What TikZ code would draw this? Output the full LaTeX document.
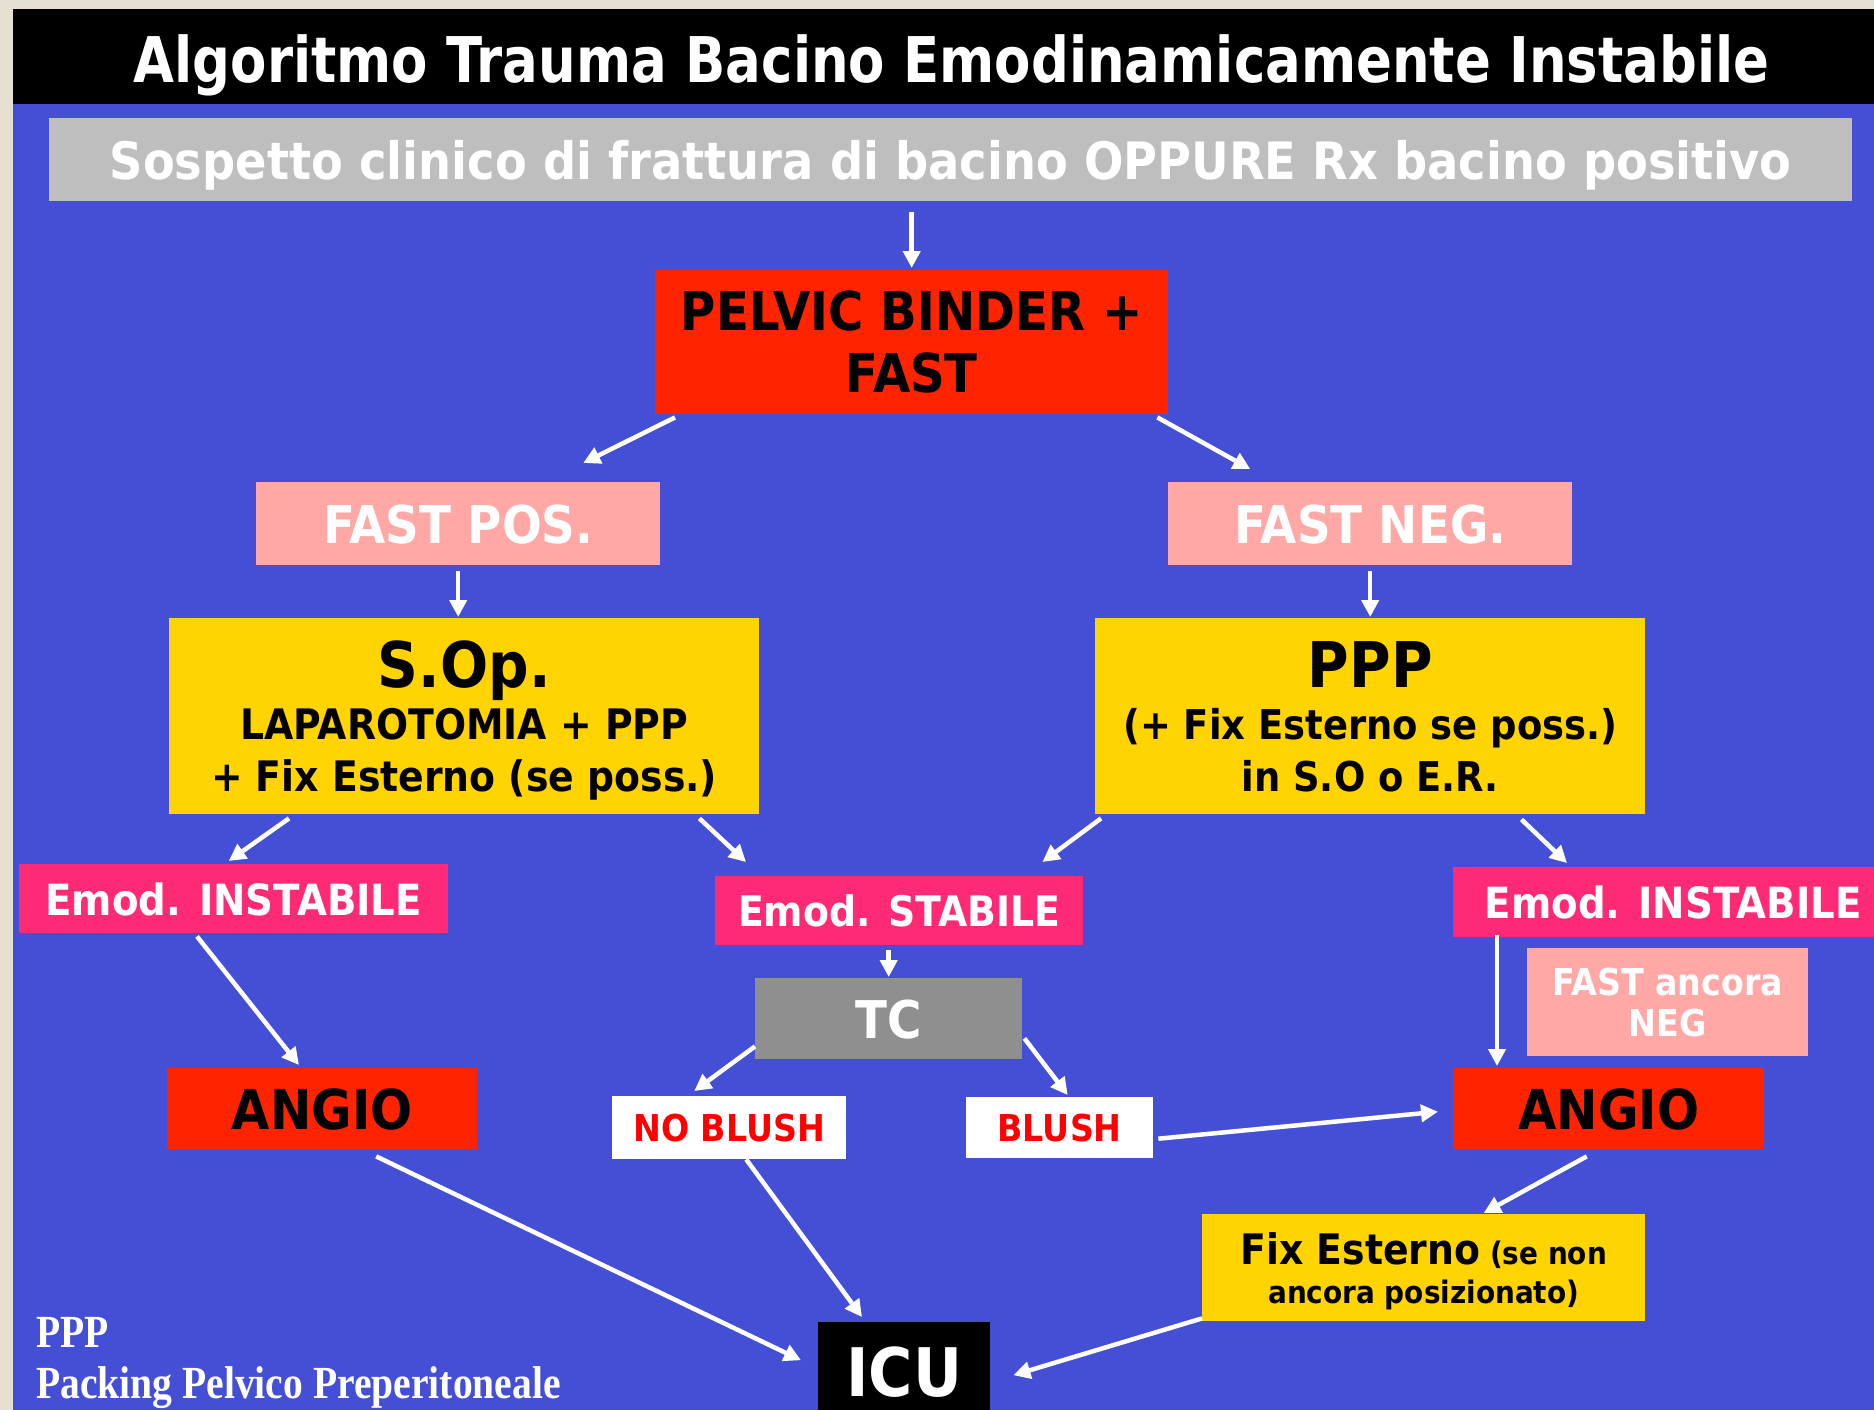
\documentclass[tikz,border=0pt]{standalone}
\usepackage{fontspec}
\setmainfont[FakeStretch=0.9]{DejaVu Sans}
\newfontfamily\headfont[FakeStretch=0.84]{DejaVu Sans}
\newfontfamily\notefont[FakeStretch=0.86]{Liberation Serif}
\usetikzlibrary{arrows.meta}

\definecolor{frame}{HTML}{E6E0D2}
\definecolor{slide}{HTML}{444FD5}
\definecolor{headgray}{HTML}{BEBEBE}
\definecolor{alarm}{HTML}{FF2400}
\definecolor{rose}{HTML}{FFA8A6}
\definecolor{gold}{HTML}{FFD400}
\definecolor{emod}{HTML}{FF2A75}
\definecolor{scan}{HTML}{8F8F8F}

\newcommand\boxsize[2]{\fontsize{#1pt}{#2pt}\selectfont}

\tikzset{
  box/.style={rectangle, anchor=north west, inner sep=0pt, align=center},
  flat/.style={text depth=0pt},
  arr/.style={white, line width=4.5pt, -{Triangle[length=17pt,width=17pt]}},
}

\begin{document}
\begin{tikzpicture}[x=1pt, y=-1pt]
    \useasboundingbox (0,0) rectangle (1874,1410);
    \fill[frame] (0,0) rectangle (1874,1410);
    \fill[slide] (13,9) rectangle (1874,1410);
    \fill[black] (13,9) rectangle (1874,104);

    \node[anchor=base, text=white, font=\headfont\bfseries\boxsize{63}{63}] (title) at (951.5,83)
        {Algoritmo Trauma Bacino Emodinamicamente Instabile};

    \begin{scope}[every node/.style={box}]
        \node[flat, fill=headgray, text=white, minimum width=1803pt, minimum height=83pt,
              font=\bfseries\boxsize{51.5}{62}] (sosp) at (49,118)
            {Sospetto clinico di frattura di bacino OPPURE Rx bacino positivo};
        \node[fill=alarm, text=black, minimum width=513pt, minimum height=144pt,
              font=\bfseries\boxsize{53.5}{62}] (pelvic) at (655,270) {PELVIC BINDER +\\FAST};
        \node[flat, fill=rose, text=white, minimum width=404pt, minimum height=83pt,
              font=\bfseries\boxsize{52}{62}] (fastpos) at (256,482) {FAST POS.};
        \node[flat, fill=rose, text=white, minimum width=404pt, minimum height=83pt,
              font=\bfseries\boxsize{52}{62}] (fastneg) at (1168,482) {FAST NEG.};
        \node[flat, fill=gold, text=black, minimum width=590pt, minimum height=196pt,
              font=\bfseries\boxsize{42}{52}] (sop) at (169,618)
            {{\boxsize{63}{63}S.Op.}\\LAPAROTOMIA + PPP\\+ Fix Esterno (se poss.)};
        \node[flat, fill=gold, text=black, minimum width=550pt, minimum height=196pt,
              font=\bfseries\boxsize{41}{52}] (ppp) at (1095,618)
            {{\boxsize{63}{63}PPP}\\(+ Fix Esterno se poss.)\\in S.O o E.R.};
        \node[flat, fill=emod, text=white, minimum width=429pt, minimum height=69pt,
              font=\bfseries\boxsize{43}{50}] (emodL) at (19,864) {Emod. INSTABILE};
        \node[flat, fill=emod, text=white, minimum width=368pt, minimum height=69pt,
              font=\bfseries\boxsize{42}{50}] (emodS) at (715,876) {Emod. STABILE};
        \node[flat, fill=emod, text=white, minimum width=440pt, minimum height=70pt,
              font=\bfseries\boxsize{43}{50}] (emodR) at (1453,867) {Emod. INSTABILE};
        \node[fill=rose, text=white, minimum width=281pt, minimum height=108pt,
              font=\bfseries\boxsize{37}{41}] (fastanc) at (1527,948) {FAST ancora\\NEG};
        \node[flat, fill=alarm, text=black, minimum width=310pt, minimum height=81pt,
              font=\bfseries\boxsize{55}{60}] (angioL) at (167,1068) {ANGIO};
        \node[flat, fill=alarm, text=black, minimum width=311pt, minimum height=81pt,
              font=\bfseries\boxsize{55}{60}] (angioR) at (1453,1068) {ANGIO};
        \node[flat, fill=scan, text=white, minimum width=267pt, minimum height=81pt,
              font=\bfseries\boxsize{52}{60}] (tc) at (755,978) {TC};
        \node[flat, fill=white, text=red, minimum width=234pt, minimum height=63pt,
              font=\bfseries\boxsize{37}{46}] (noblush) at (612,1096) {NO BLUSH};
        \node[flat, fill=white, text=red, minimum width=187pt, minimum height=61pt,
              font=\bfseries\boxsize{37}{46}] (blush) at (966,1097) {BLUSH};
        \node[flat, fill=gold, text=black, minimum width=443pt, minimum height=107pt,
              font=\bfseries\boxsize{31}{39}] (fixest) at (1202,1214)
            {{\boxsize{42}{42}Fix Esterno} (se non\\ancora posizionato)};
        \node[flat, fill=black, text=white, minimum width=172pt, minimum height=98pt,
              font=\bfseries\boxsize{67}{70}] (icu) at (818,1322) {ICU};
        \node[align=left, text=white, font=\notefont\bfseries\boxsize{46}{51}] (legend) at (36,1317)
            {PPP\\Packing Pelvico Preperitoneale};
    \end{scope}

    \begin{scope}
        \path[arr] (sosp.south -| pelvic.north) edge[shorten <=11pt, shorten >=2pt] (pelvic.north);
        \path[arr] ([xshift=20pt,yshift=-3pt]pelvic.south west) edge ([xshift=125pt,yshift=19pt]fastpos.north);
        \path[arr] ([xshift=-11pt,yshift=-3pt]pelvic.south east) edge ([xshift=-120pt,yshift=13pt]fastneg.north);
        \path[arr] (fastpos.south) edge[shorten <=6pt, shorten >=1pt] (fastpos.south |- sop.north);
        \path[arr] (fastneg.south) edge[shorten <=6pt, shorten >=1pt] (ppp.north);
        \path[arr] ([xshift=120pt,yshift=-4pt]sop.south west) edge ([xshift=-5pt,yshift=3pt]emodL.north);
        \path[arr] ([xshift=-60pt,yshift=-4pt]sop.south east) edge ([xshift=31pt,yshift=14pt]emodS.north west);
        \path[arr] ([xshift=6pt,yshift=-4pt]ppp.south west) edge ([xshift=-41pt,yshift=14pt]emodS.north east);
        \path[arr] ([xshift=-124pt,yshift=-5pt]ppp.south east) edge ([xshift=114pt,yshift=4pt]emodR.north west);
        \path[arr] (emodS.south -| tc.north) edge[shorten <=5pt, shorten >=1pt] (tc.north);
        \path[arr] ([xshift=178pt,yshift=-3pt]emodL.south west) edge ([xshift=132pt,yshift=3pt]angioL.north west);
        \path[arr] ([xshift=44pt,yshift=2pt]emodR.south west) edge[shorten >=2pt] ([xshift=44pt]angioR.north west);
        \path[arr] ([yshift=13pt]tc.south west) edge ([xshift=-35pt,yshift=5pt]noblush.north);
        \path[arr] ([xshift=2pt,yshift=21pt]tc.south east) edge ([xshift=8pt,yshift=2pt]blush.north);
        \path[arr] ([xshift=5pt,yshift=-11pt]blush.east) edge ([xshift=-15pt,yshift=-3pt]angioR.west);
        \path[arr] ([xshift=54pt,yshift=-7pt]angioL.south) edge ([xshift=-17pt,yshift=11pt]icu.west);
        \path[arr] ([xshift=17pt]noblush.south) edge ([xshift=44pt,yshift=5pt]icu.north west);
        \path[arr] ([xshift=-22pt,yshift=-7pt]angioR.south) edge ([xshift=60pt,yshift=1pt]fixest.north);
        \path[arr] ([yshift=3pt]fixest.south west) edge ([xshift=23pt,yshift=-4pt]icu.east);
    \end{scope}
\end{tikzpicture}
\end{document}
